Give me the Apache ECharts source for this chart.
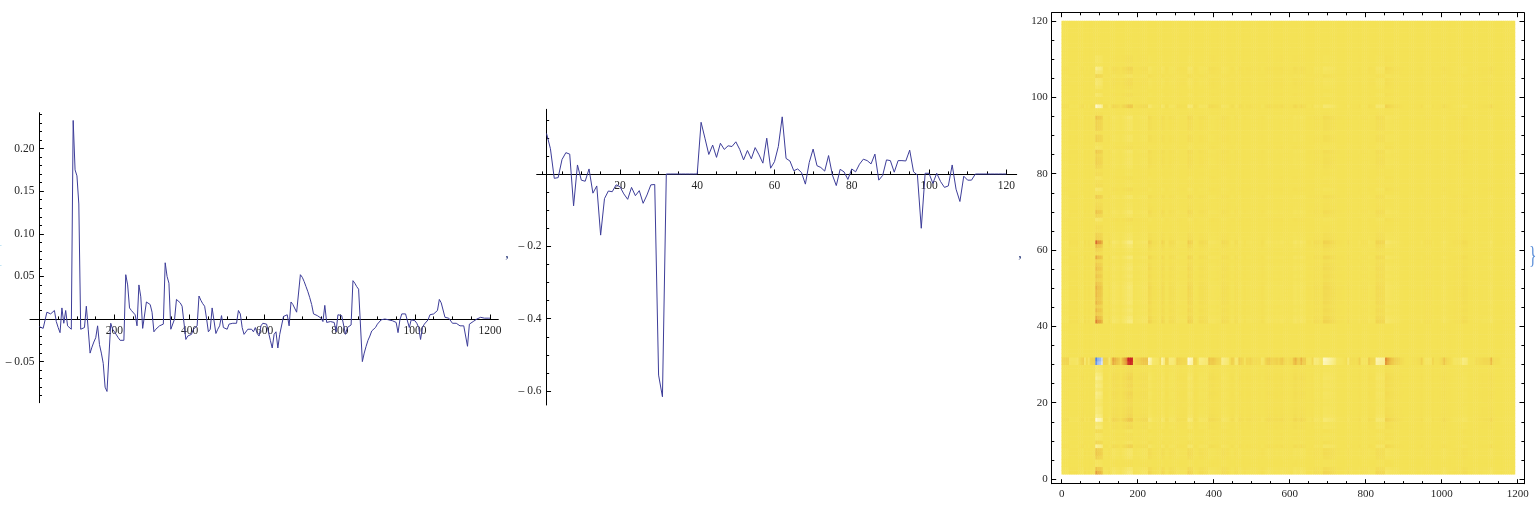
<!DOCTYPE html>
<html><head><meta charset="utf-8">
<script src="https://cdn.jsdelivr.net/npm/echarts@6/dist/echarts.min.js"></script>
<style>html,body{margin:0;padding:0;background:#fff}#c{width:1540px;height:507px}</style>
</head><body><div id="c"></div>
<script>
// ---------------- data ----------------
// first vector, sampled every uStep units of its index (0 ... 1200)
const uStep = 5;
const uValues = [
 -0.009,-0.010,-0.011,-0.011,0.008,0.006,0.006,0.007,0.010,-0.003,
 -0.010,-0.016,0.013,-0.005,0.010,-0.008,-0.010,-0.012,0.233,0.175,
 0.168,0.135,-0.012,-0.013,-0.010,0.015,-0.012,-0.040,-0.033,-0.027,
 -0.022,-0.008,-0.030,-0.040,-0.052,-0.080,-0.085,-0.083,-0.005,-0.012,
 -0.015,-0.016,-0.022,-0.025,-0.024,-0.025,0.052,0.040,0.013,0.010,
 0.008,0.005,-0.008,0.040,0.026,-0.011,-0.011,0.020,0.018,0.017,
 0.008,-0.015,-0.012,-0.010,-0.008,-0.008,-0.006,0.066,0.050,0.042,
 -0.012,-0.010,0.000,0.023,0.022,0.019,0.015,0.013,-0.024,-0.020,
 -0.022,-0.018,-0.012,-0.010,-0.008,0.027,0.022,0.018,0.015,0.001,
 -0.015,-0.012,0.013,0.012,-0.017,-0.012,-0.008,0.004,-0.010,-0.008,
 -0.012,-0.006,-0.004,-0.005,-0.004,-0.005,0.010,0.006,-0.010,-0.018,
 -0.020,-0.012,-0.011,-0.012,-0.015,-0.010,-0.017,-0.020,-0.008,-0.005,
 -0.004,-0.006,-0.006,-0.025,-0.034,-0.018,-0.015,-0.034,-0.018,-0.018,
 0.003,0.005,0.005,-0.008,0.020,0.017,0.016,0.008,0.006,0.052,
 0.049,0.044,0.038,0.032,0.025,0.017,0.006,0.005,0.004,0.003,
 0.001,-0.003,0.016,-0.004,-0.003,-0.003,-0.002,-0.004,-0.015,0.005,
 0.005,0.004,0.004,-0.018,-0.010,-0.008,-0.007,0.045,0.042,0.038,
 0.035,0.034,-0.050,-0.040,-0.032,-0.025,-0.020,-0.014,-0.012,-0.010,
 -0.006,-0.004,-0.001,0.000,0.000,0.000,-0.001,-0.002,-0.002,-0.003,
 -0.004,-0.016,-0.001,0.006,0.006,0.006,0.005,-0.010,-0.001,-0.002,
 -0.002,-0.005,-0.010,-0.024,-0.010,-0.006,-0.004,-0.001,0.005,0.007,
 0.006,0.007,0.010,0.023,0.019,0.017,0.002,0.001,0.001,0.000,
 -0.005,-0.004,-0.005,-0.006,-0.008,-0.008,-0.008,-0.010,-0.032,-0.006,
 -0.004,-0.003,-0.003,0.000,0.002,0.002,0.001,0.001,0.001,0.001,
 0.001
];
// second vector, index 1 ... 120
const vValues = [
 0.112,0.070,-0.012,-0.010,0.040,0.059,0.055,-0.088,0.025,-0.017,
 -0.020,0.014,-0.053,-0.033,-0.169,-0.068,-0.047,-0.049,-0.030,-0.035,
 -0.055,-0.070,-0.037,-0.060,-0.046,-0.081,-0.058,-0.030,-0.029,-0.556,
 -0.616,0,0,0,0,0,0,0,0,0,
 0.143,0.099,0.054,0.080,0.046,0.085,0.068,0.078,0.076,0.089,
 0.068,0.039,0.065,0.042,0.073,0.053,0.030,0.099,0.016,0.034,
 0.076,0.158,0.043,0.036,0.009,0.014,0.004,-0.028,0.032,0.069,
 0.023,0.018,0.008,0.051,-0.003,-0.032,0.013,0.006,-0.015,0.014,
 0.006,0.027,0.041,0.037,0.028,0.055,-0.017,-0.004,0.039,0.037,
 0.005,0.037,0.037,0.036,0.066,0.006,-0.003,-0.150,0.002,0.002,
 -0.026,0.002,-0.021,-0.037,-0.033,0.025,-0.042,-0.076,-0.006,-0.017,
 -0.017,0,0,0,0,0,0,0,0,0
];

// tick labels
const p1XTicks = [200, 400, 600, 800, 1000, 1200];
const p1XLabels = ['200', '400', '600', '800', '1000', '1200'];
const p1YTicks = [-0.05, 0.05, 0.10, 0.15, 0.20];
const p1YLabels = ['\u2013 0.05', '0.05', '0.10', '0.15', '0.20'];
const p2XTicks = [20, 40, 60, 80, 100, 120];
const p2XLabels = ['20', '40', '60', '80', '100', '120'];
const p2YTicks = [-0.6, -0.4, -0.2];
const p2YLabels = ['\u2013 0.6', '\u2013 0.4', '\u2013 0.2'];
const p3XTicks = [0, 200, 400, 600, 800, 1000, 1200];
const p3XLabels = ['0', '200', '400', '600', '800', '1000', '1200'];
const p3YTicks = [0, 20, 40, 60, 80, 100, 120];
const p3YLabels = ['0', '20', '40', '60', '80', '100', '120'];

// ---------------- layout ----------------
const FONT = '"Liberation Serif","Times New Roman",serif';
const L1 = {left: 30, top: 112.7, width: 468.3, height: 290, xMin: -25, xMax: 1222, yMin: -0.0982, yMax: 0.2421, yAxisAt: 0};
const L2 = {left: 536.7, top: 109.3, width: 480, height: 295.7, xMin: -1.55, xMax: 122.7, yMin: -0.6387, yMax: 0.1789, yAxisAt: 1};
const L3 = {left: 1051.7, top: 12.7, width: 472.3, height: 471, xMin: -26.3, xMax: 1216.6, yMin: -1.23, yMax: 122.2};
const LH = {left: 1061.7, top: 21, width: 453.3, height: 453.3};

function xAxisOffset(L) { return -L.height * (-L.yMin) / (L.yMax - L.yMin); }
function yAxisOffset(L) { return -L.width * (L.yAxisAt - L.xMin) / (L.xMax - L.xMin); }

function labelFmt(ticks, labels) {
  return function (val) {
    for (let i = 0; i < ticks.length; i++) if (Math.abs(ticks[i] - val) < 1e-9) return labels[i];
    return '';
  };
}
function minors(from, to, step, majors, keepZero) {
  const out = [];
  const n = Math.round((to - from) / step);
  for (let k = 0; k <= n; k++) {
    const v = +(from + k * step).toFixed(6);
    if (!keepZero && Math.abs(v) < 1e-9) continue;
    if (majors.some(m => Math.abs(m - v) < 1e-9)) continue;
    out.push(v);
  }
  return out;
}
function axis(o) {
  const cfg = {
    type: 'value', gridIndex: o.grid, min: o.min, max: o.max, position: o.pos, offset: o.offset || 0,
    silent: true, splitLine: {show: false}, splitArea: {show: false},
    axisLine: {show: !!o.line, onZero: false, lineStyle: {color: '#000', width: 1}},
    axisTick: {show: true, inside: true, length: o.len, customValues: o.ticks, lineStyle: {color: '#000', width: 1}},
    axisLabel: {show: false},
    axisPointer: {show: false}
  };
  if (o.labels) {
    cfg.axisLabel = {show: true, customValues: o.ticks, formatter: labelFmt(o.ticks, o.labels),
      margin: o.margin, fontFamily: FONT, fontSize: o.fs, color: '#262626', hideOverlap: false};
  }
  return cfg;
}

const p1XMinor = minors(0, 1200, 50, p1XTicks, false);
const p1YMinor = minors(-0.09, 0.24, 0.01, p1YTicks, false);
const p2XMinor = minors(0, 120, 5, p2XTicks, true);
const p2YMinor = minors(-0.6, 0.15, 0.05, p2YTicks, false);
const p3XMinor = minors(0, 1200, 50, p3XTicks, true);
const p3YMinor = minors(0, 120, 5, p3YTicks, true);

const MAJ = 4.5, MIN = 2.6;
const xAxes = [
  axis({grid: 0, min: L1.xMin, max: L1.xMax, pos: 'bottom', offset: xAxisOffset(L1), line: true, len: MAJ, ticks: p1XTicks, labels: p1XLabels, margin: 6, fs: 11.5}),
  axis({grid: 0, min: L1.xMin, max: L1.xMax, pos: 'bottom', offset: xAxisOffset(L1), len: MIN, ticks: p1XMinor}),
  axis({grid: 1, min: L2.xMin, max: L2.xMax, pos: 'bottom', offset: xAxisOffset(L2), line: true, len: MAJ, ticks: p2XTicks, labels: p2XLabels, margin: 6, fs: 11.5}),
  axis({grid: 1, min: L2.xMin, max: L2.xMax, pos: 'bottom', offset: xAxisOffset(L2), len: MIN, ticks: p2XMinor}),
  axis({grid: 2, min: L3.xMin, max: L3.xMax, pos: 'bottom', line: true, len: MAJ, ticks: p3XTicks, labels: p3XLabels, margin: 5, fs: 11}),
  axis({grid: 2, min: L3.xMin, max: L3.xMax, pos: 'bottom', len: MIN, ticks: p3XMinor}),
  axis({grid: 2, min: L3.xMin, max: L3.xMax, pos: 'top', line: true, len: MAJ, ticks: p3XTicks}),
  axis({grid: 2, min: L3.xMin, max: L3.xMax, pos: 'top', len: MIN, ticks: p3XMinor}),
  {type: 'category', gridIndex: 3, data: uValues.map((_, i) => i * uStep), show: false, boundaryGap: true}
];
const yAxes = [
  axis({grid: 0, min: L1.yMin, max: L1.yMax, pos: 'left', offset: yAxisOffset(L1), line: true, len: MAJ, ticks: p1YTicks, labels: p1YLabels, margin: 5, fs: 11.5}),
  axis({grid: 0, min: L1.yMin, max: L1.yMax, pos: 'left', offset: yAxisOffset(L1), len: MIN, ticks: p1YMinor}),
  axis({grid: 1, min: L2.yMin, max: L2.yMax, pos: 'left', offset: yAxisOffset(L2), line: true, len: MAJ, ticks: p2YTicks, labels: p2YLabels, margin: 5, fs: 11.5}),
  axis({grid: 1, min: L2.yMin, max: L2.yMax, pos: 'left', offset: yAxisOffset(L2), len: MIN, ticks: p2YMinor}),
  axis({grid: 2, min: L3.yMin, max: L3.yMax, pos: 'left', line: true, len: MAJ, ticks: p3YTicks, labels: p3YLabels, margin: 4, fs: 11}),
  axis({grid: 2, min: L3.yMin, max: L3.yMax, pos: 'left', len: MIN, ticks: p3YMinor}),
  axis({grid: 2, min: L3.yMin, max: L3.yMax, pos: 'right', line: true, len: MAJ, ticks: p3YTicks}),
  axis({grid: 2, min: L3.yMin, max: L3.yMax, pos: 'right', len: MIN, ticks: p3YMinor}),
  {type: 'category', gridIndex: 3, data: vValues.map((_, i) => i + 1), show: false, boundaryGap: true}
];

function gridOf(L) { return {left: L.left, top: L.top, width: L.width, height: L.height, containLabel: false, outerBoundsMode: 'none', show: false}; }

// heat map: the matrix is the outer product of the two vectors above
const heatData = [];
for (let r = 0; r < vValues.length; r++)
  for (let c = 0; c < uValues.length; c++)
    heatData.push([c, r, vValues[r] * uValues[c]]);

const chart = echarts.init(document.getElementById('c'), null, {renderer: 'canvas', width: 1540, height: 507});
chart.setOption({
  animation: false,
  backgroundColor: '#ffffff',
  grid: [gridOf(L1), gridOf(L2), gridOf(L3), gridOf(LH)],
  xAxis: xAxes,
  yAxis: yAxes,
  visualMap: [{
    type: 'continuous', show: false, seriesIndex: 2, dimension: 2, min: -0.144, max: 0.048,
    inRange: {color: ['#4f84e4', '#6a98e8', '#86acec', '#a9c3f0', '#cfdcf4', '#f0f2f0', '#fffbe4',
                      '#fdf6c0', '#f9ed88', '#f4e256', '#edc247', '#e08a32', '#c92222']}
  }],
  series: [
    {type: 'line', xAxisIndex: 0, yAxisIndex: 0, data: uValues.map((y, i) => [i * uStep, y]),
     showSymbol: false, symbol: 'none', silent: true, lineStyle: {color: '#3d3d99', width: 1}},
    {type: 'line', xAxisIndex: 2, yAxisIndex: 2, data: vValues.map((y, i) => [i + 1, y]),
     showSymbol: false, symbol: 'none', silent: true, lineStyle: {color: '#3d3d99', width: 1}},
    {type: 'heatmap', xAxisIndex: 8, yAxisIndex: 8, data: heatData, progressive: 0, silent: true,
     emphasis: {disabled: true}, itemStyle: {borderWidth: 0}}
  ],
  graphic: [
    {type: 'text', x: 4, y: 255, silent: true, style: {text: '{', fontSize: 26, fontFamily: FONT, fill: '#9fd6ee', align: 'right', verticalAlign: 'middle'}},
    {type: 'text', x: 507, y: 254, silent: true, style: {text: ',', fontSize: 14, fontFamily: FONT, fill: '#223377', align: 'center', verticalAlign: 'middle'}},
    {type: 'text', x: 1020, y: 254, silent: true, style: {text: ',', fontSize: 14, fontFamily: FONT, fill: '#223377', align: 'center', verticalAlign: 'middle'}},
    {type: 'text', x: 1529, y: 256, scaleX: 0.6, silent: true, style: {text: '}', fontSize: 26, fontFamily: FONT, fill: '#5b8fd9', align: 'left', verticalAlign: 'middle'}}
  ]
});
</script>
</body></html>
